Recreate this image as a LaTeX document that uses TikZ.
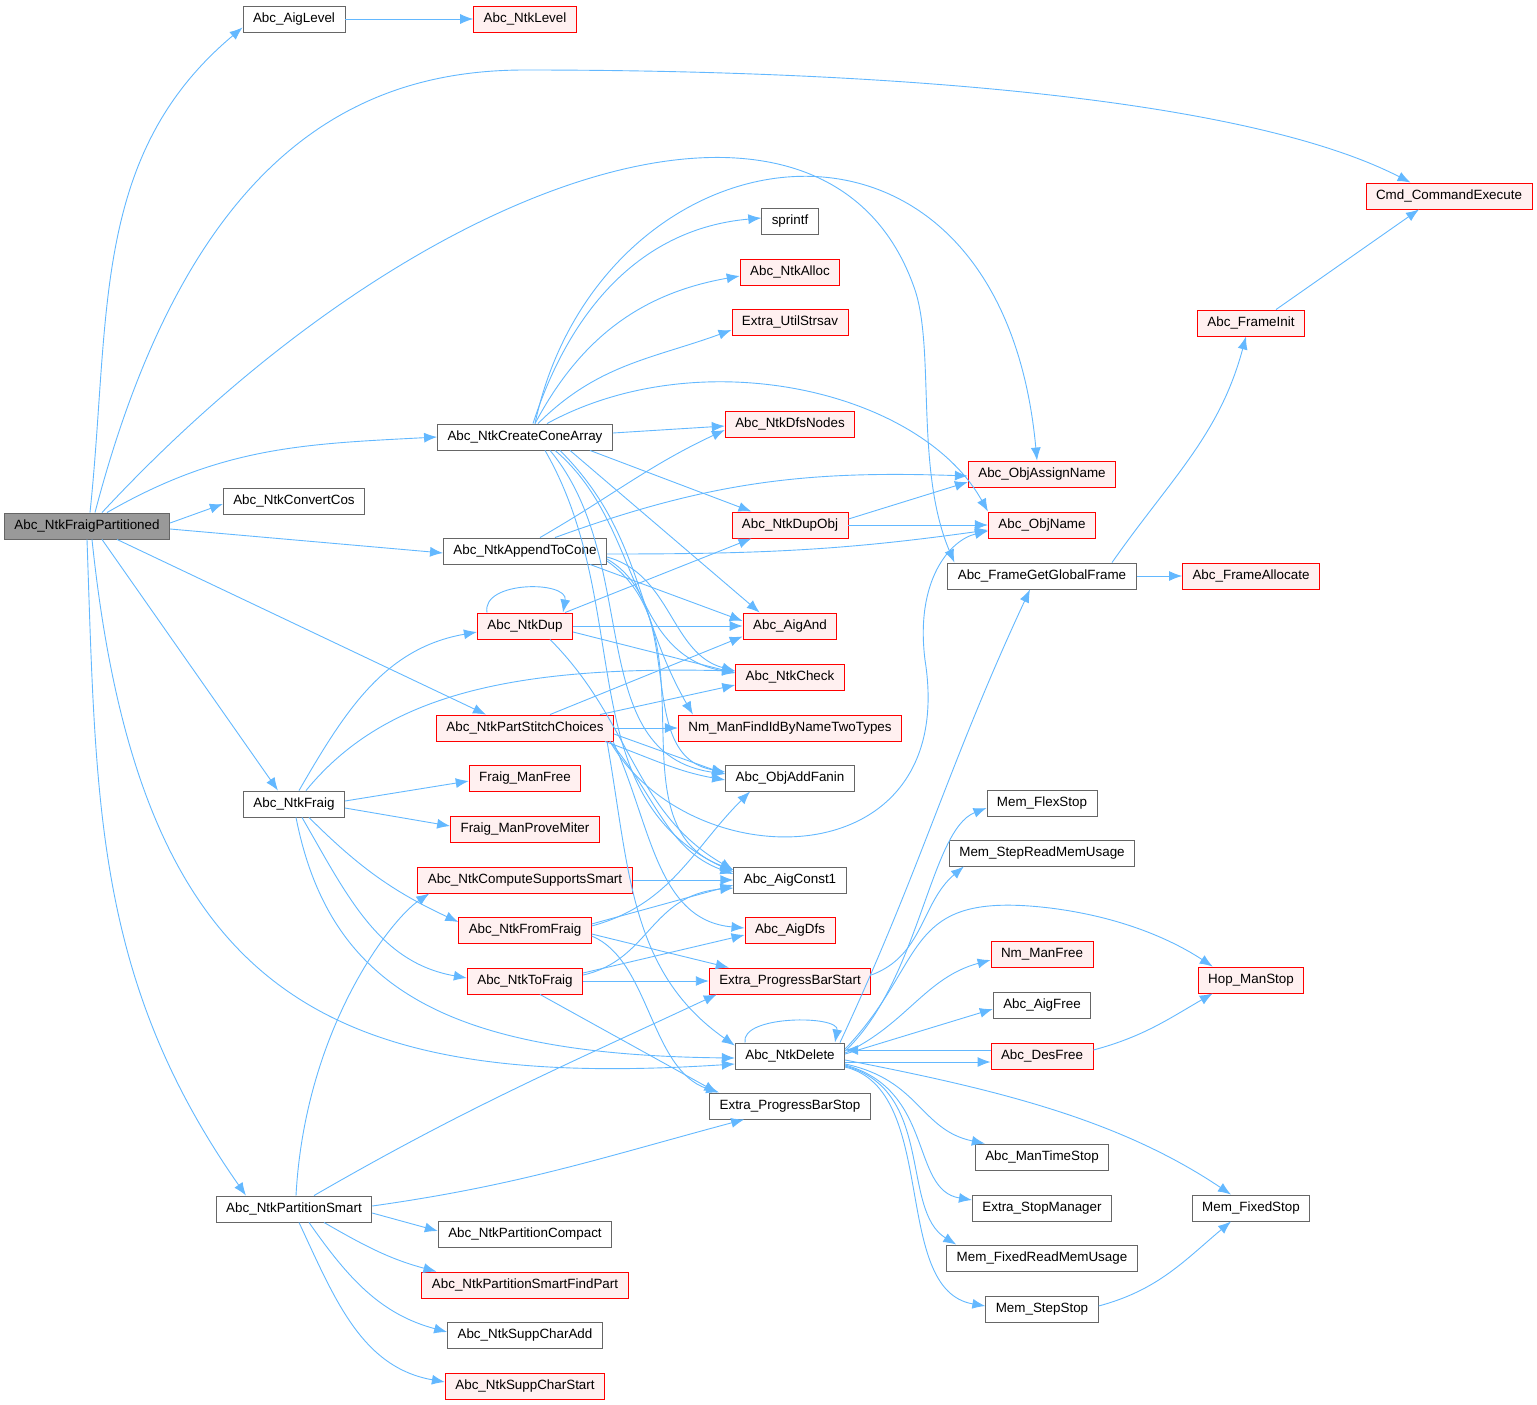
\documentclass[tikz,border=0pt]{standalone}
\usepackage{fontspec}
\setmainfont{Liberation Sans}
\usetikzlibrary{arrows.meta}
\definecolor{edgeblue}{HTML}{63B8FF}
\definecolor{redline}{HTML}{FF0000}
\definecolor{redfill}{HTML}{FFF0F0}
\definecolor{grayline}{HTML}{666666}
\definecolor{rootfill}{HTML}{999999}
\tikzset{
  fnbox/.style={draw=grayline,fill=white,line width=0.9pt,minimum height=26pt,inner xsep=10pt,inner ysep=0pt,font=\fontsize{13.4pt}{15pt}\selectfont},
  fnred/.style={fnbox,draw=redline,fill=redfill},
  fnroot/.style={fnbox,fill=rootfill},
  callarc/.style={-{Latex[length=13pt,width=10pt]},edgeblue,line width=0.9pt}
}
\begin{document}
\begin{tikzpicture}[x=1pt,y=1pt]
  \useasboundingbox (0,0) rectangle (1537,-1405);
  % column 0 and 1
  \node[fnroot] (fraigpart) at (87,-526) {Abc\_NtkFraigPartitioned};
  \node[fnbox] (aiglevel) at (294,-19) {Abc\_AigLevel};
  \node[fnbox] (convcos) at (294,-501) {Abc\_NtkConvertCos};
  \node[fnbox] (ntkfraig) at (294,-804) {Abc\_NtkFraig};
  \node[fnbox] (partsmart) at (294,-1209) {Abc\_NtkPartitionSmart};
  % column 2
  \node[fnred] (ntklevel) at (525,-19) {Abc\_NtkLevel};
  \node[fnbox] (conearray) at (525,-437) {Abc\_NtkCreateConeArray};
  \node[fnbox] (appendcone) at (525,-551) {Abc\_NtkAppendToCone};
  \node[fnred] (ntkdup) at (525,-626) {Abc\_NtkDup};
  \node[fnred] (stitch) at (525,-728) {Abc\_NtkPartStitchChoices};
  \node[fnred] (manfree) at (525,-778) {Fraig\_ManFree};
  \node[fnred] (provemiter) at (525,-829) {Fraig\_ManProveMiter};
  \node[fnred] (suppsmart) at (525,-880) {Abc\_NtkComputeSupportsSmart};
  \node[fnred] (fromfraig) at (525,-930) {Abc\_NtkFromFraig};
  \node[fnred] (tofraig) at (525,-981) {Abc\_NtkToFraig};
  \node[fnbox] (partcompact) at (525,-1234) {Abc\_NtkPartitionCompact};
  \node[fnred] (findpart) at (525,-1285) {Abc\_NtkPartitionSmartFindPart};
  \node[fnbox] (suppadd) at (525,-1335) {Abc\_NtkSuppCharAdd};
  \node[fnred] (suppstart) at (525,-1386) {Abc\_NtkSuppCharStart};
  % column 3
  \node[fnbox] (sprintfn) at (790,-221) {sprintf};
  \node[fnred] (ntkalloc) at (790,-272) {Abc\_NtkAlloc};
  \node[fnred] (strsav) at (790,-322) {Extra\_UtilStrsav};
  \node[fnred] (dfsnodes) at (790,-424) {Abc\_NtkDfsNodes};
  \node[fnred] (dupobj) at (790,-525) {Abc\_NtkDupObj};
  \node[fnred] (aigand) at (790,-626) {Abc\_AigAnd};
  \node[fnred] (ntkcheck) at (790,-677) {Abc\_NtkCheck};
  \node[fnred] (findid) at (790,-728) {Nm\_ManFindIdByNameTwoTypes};
  \node[fnbox] (addfanin) at (790,-778) {Abc\_ObjAddFanin};
  \node[fnbox] (aigconst) at (790,-880) {Abc\_AigConst1};
  \node[fnred] (aigdfs) at (790,-930) {Abc\_AigDfs};
  \node[fnred] (barstart) at (790,-981) {Extra\_ProgressBarStart};
  \node[fnbox] (ntkdelete) at (790,-1056) {Abc\_NtkDelete};
  \node[fnbox] (barstop) at (790,-1106) {Extra\_ProgressBarStop};
  % column 4
  \node[fnred] (assignname) at (1042,-474) {Abc\_ObjAssignName};
  \node[fnred] (objname) at (1042,-525) {Abc\_ObjName};
  \node[fnbox] (globalframe) at (1042,-576) {Abc\_FrameGetGlobalFrame};
  \node[fnbox] (flexstop) at (1042,-803) {Mem\_FlexStop};
  \node[fnbox] (stepreadmem) at (1042,-853) {Mem\_StepReadMemUsage};
  \node[fnred] (nmfree) at (1042,-954) {Nm\_ManFree};
  \node[fnbox] (aigfree) at (1042,-1005) {Abc\_AigFree};
  \node[fnred] (desfree) at (1042,-1056) {Abc\_DesFree};
  \node[fnbox] (timestop) at (1042,-1157) {Abc\_ManTimeStop};
  \node[fnbox] (stopmanager) at (1042,-1208) {Extra\_StopManager};
  \node[fnbox] (fixedreadmem) at (1042,-1258) {Mem\_FixedReadMemUsage};
  \node[fnbox] (stepstop) at (1042,-1309) {Mem\_StepStop};
  % column 5 and 6
  \node[fnred] (frameinit) at (1251,-323) {Abc\_FrameInit};
  \node[fnred] (frameallocate) at (1251,-576) {Abc\_FrameAllocate};
  \node[fnred] (hopstop) at (1251,-980) {Hop\_ManStop};
  \node[fnbox] (fixedstop) at (1251,-1208) {Mem\_FixedStop};
  \node[fnred] (cmdexec) at (1449,-196) {Cmd\_CommandExecute};

  % calls of the root
  \draw[callarc] ([xshift=3pt]fraigpart.north) to[out=84,in=-140] ([yshift=5pt]aiglevel.south west);
  \draw[callarc] ([xshift=8pt]fraigpart.north) .. controls (190,-150) and (360,-70) .. (525,-70) .. controls (900,-70) and (1250,-100) .. ([xshift=45pt]cmdexec.north west);
  \draw[callarc] ([xshift=15pt]fraigpart.north) .. controls (430,-160) and (830,-40) .. (915,-290) .. controls (935,-350) and (915,-470) .. ([xshift=7pt]globalframe.north west);
  \draw[callarc] ([xshift=20pt]fraigpart.north) to[out=30,in=183] (conearray.west);
  \draw[callarc] ([yshift=3pt]fraigpart.east) -- ([yshift=-3pt]convcos.west);
  \draw[callarc] ([yshift=-3pt]fraigpart.east) -- ([yshift=-2pt]appendcone.west);
  \draw[callarc] ([xshift=30pt]fraigpart.south) -- ([xshift=50pt]stitch.north west);
  \draw[callarc] ([xshift=15pt]fraigpart.south) -- ([xshift=-16pt]ntkfraig.north);
  \draw[callarc] ([xshift=5pt]fraigpart.south) .. controls (140,-1000) and (330,-1090) .. ([yshift=-8pt]ntkdelete.west);
  \draw[callarc] (fraigpart.south) to[out=-88,in=125] ([xshift=-48pt]partsmart.north);
  \draw[callarc] (aiglevel) -- (ntklevel);

  % frame
  \draw[callarc] ([xshift=25pt]frameinit.north) -- ([xshift=-30pt]cmdexec.south);
  \draw[callarc] ([xshift=70pt]globalframe.north) to[out=55,in=-105] ([xshift=-5pt]frameinit.south);
  \draw[callarc] (globalframe) -- (frameallocate);

  % Abc_NtkCreateConeArray
  \draw[callarc] ([xshift=8pt]conearray.north) to[out=72,in=185] ([yshift=3pt]sprintfn.west);
  \draw[callarc] ([xshift=10pt]conearray.north) to[out=62,in=190] ([yshift=-4pt]ntkalloc.west);
  \draw[callarc] ([xshift=13pt]conearray.north) to[out=45,in=200] ([yshift=-8pt]strsav.west);
  \draw[callarc] ([yshift=4pt]conearray.east) -- ([yshift=-2pt]dfsnodes.west);
  \draw[callarc] ([xshift=10pt]conearray.north) .. controls (600,-120) and (1000,-60) .. ([xshift=-5pt]assignname.north);
  \draw[callarc] ([xshift=22pt]conearray.north) .. controls (700,-340) and (920,-390) .. (objname.north west);
  \draw[callarc] ([xshift=65pt]conearray.south) -- ([xshift=20pt]dupobj.north west);
  \draw[callarc] ([xshift=45pt]conearray.south) -- ([xshift=17pt]aigand.north west);
  \draw[callarc] ([xshift=30pt]conearray.south) to[out=-40,in=170] ([yshift=4pt]ntkcheck.west);
  \draw[callarc] ([xshift=25pt]conearray.south) to[out=-50,in=172] ([yshift=4pt]addfanin.west);
  \draw[callarc] ([xshift=20pt]conearray.south) to[out=-60,in=155] ([yshift=8pt]aigconst.west);
  \draw[callarc] ([xshift=35pt]conearray.south) to[out=-45,in=120] ([xshift=15pt]findid.north west);

  % Abc_NtkAppendToCone
  \draw[callarc] ([xshift=15pt]appendcone.north) to[out=30,in=205] ([yshift=-6pt]dfsnodes.west);
  \draw[callarc] ([xshift=30pt]appendcone.north) to[out=20,in=178] ([yshift=-2pt]assignname.west);
  \draw[callarc] ([yshift=-3pt]appendcone.east) to[out=0,in=188] ([yshift=-5pt]objname.west);
  \draw[callarc] ([xshift=65pt]appendcone.south) -- ([yshift=5pt]aigand.west);
  \draw[callarc] ([yshift=-6pt]appendcone.east) to[out=-15,in=165] ([yshift=6pt]ntkcheck.west);
  \draw[callarc] ([yshift=-8pt]appendcone.east) to[out=-30,in=170] ([yshift=6pt]addfanin.west);
  \draw[callarc] ([yshift=-10pt]appendcone.east) to[out=-35,in=160] ([yshift=10pt]aigconst.west);

  % Abc_NtkDup
  \draw[callarc] ([xshift=-38pt]ntkdup.north) to[out=100,in=80,looseness=1.1] ([xshift=38pt]ntkdup.north);
  \draw[callarc] ([xshift=40pt]ntkdup.north) -- ([xshift=20pt]dupobj.south west);
  \draw[callarc] (ntkdup) -- (aigand);
  \draw[callarc] ([yshift=-6pt]ntkdup.east) -- ([yshift=4pt]ntkcheck.west);
  \draw[callarc] ([xshift=25pt]ntkdup.south) to[out=-45,in=150] ([yshift=10pt]aigconst.west);

  % Abc_NtkPartStitchChoices
  \draw[callarc] ([xshift=25pt]stitch.north) -- ([yshift=3pt]aigand.south west);
  \draw[callarc] ([xshift=75pt]stitch.north) -- ([yshift=-8pt]ntkcheck.west);
  \draw[callarc] (stitch) -- (findid);
  \draw[callarc] ([yshift=-6pt]stitch.east) -- ([yshift=4pt]addfanin.west);
  \draw[callarc] ([xshift=80pt]stitch.south) to[out=-20,in=170] ([yshift=-2pt]addfanin.west);
  \draw[callarc] ([xshift=85pt]stitch.south) to[out=-50,in=160] ([yshift=6pt]aigconst.west);
  \draw[callarc] ([xshift=88pt]stitch.south) to[out=-65,in=175] ([yshift=2pt]aigdfs.west);
  \draw[callarc] ([xshift=82pt]stitch.south) to[out=-80,in=145] ([yshift=-3pt]ntkdelete.north west);
  \draw[callarc] ([xshift=85pt]stitch.south) .. controls (690,-880) and (960,-880) .. (925,-660) .. controls (915,-580) and (950,-540) .. ([yshift=-6pt]objname.west);

  % Abc_NtkFraig
  \draw[callarc] ([xshift=5pt]ntkfraig.north) to[out=60,in=190] ([yshift=-6pt]ntkdup.west);
  \draw[callarc] ([xshift=12pt]ntkfraig.north) .. controls (380,-700) and (500,-665) .. ([yshift=6pt]ntkcheck.west);
  \draw[callarc] ([yshift=3pt]ntkfraig.east) -- ([yshift=-3pt]manfree.west);
  \draw[callarc] ([yshift=-4pt]ntkfraig.east) -- ([yshift=3pt]provemiter.west);
  \draw[callarc] ([xshift=15pt]ntkfraig.south) to[out=-45,in=155] ([yshift=8pt]fromfraig.west);
  \draw[callarc] ([xshift=8pt]ntkfraig.south) to[out=-60,in=170] ([yshift=3pt]tofraig.west);
  \draw[callarc] ([xshift=2pt]ntkfraig.south) .. controls (330,-990) and (450,-1055) .. ([yshift=-2pt]ntkdelete.west);

  % supports, from/to fraig
  \draw[callarc] (suppsmart) -- (aigconst);
  \draw[callarc] ([yshift=4pt]fromfraig.east) to[out=15,in=-135] ([xshift=25pt]addfanin.south west);
  \draw[callarc] ([yshift=6pt]fromfraig.east) -- ([yshift=-5pt]aigconst.west);
  \draw[callarc] ([yshift=-4pt]fromfraig.east) -- ([xshift=20pt]barstart.north west);
  \draw[callarc] ([yshift=-6pt]fromfraig.east) .. controls (650,-960) and (650,-1070) .. ([xshift=10pt]barstop.north west);
  \draw[callarc] ([yshift=6pt]tofraig.east) .. controls (650,-960) and (650,-895) .. ([yshift=-8pt]aigconst.west);
  \draw[callarc] ([yshift=8pt]tofraig.east) -- ([yshift=-5pt]aigdfs.west);
  \draw[callarc] (tofraig) -- (barstart);
  \draw[callarc] ([xshift=15pt]tofraig.south) -- ([xshift=8pt]barstop.north west);

  % Abc_NtkPartitionSmart
  \draw[callarc] ([xshift=2pt]partsmart.north) .. controls (305,-1030) and (390,-920) .. ([xshift=12pt]suppsmart.south west);
  \draw[callarc] ([xshift=20pt]partsmart.north) to[out=30,in=205] ([xshift=8pt]barstart.south west);
  \draw[callarc] ([yshift=3pt]partsmart.east) to[out=8,in=195] ([xshift=35pt]barstop.south west);
  \draw[callarc] ([yshift=-4pt]partsmart.east) -- ([yshift=3pt]partcompact.west);
  \draw[callarc] ([xshift=30pt]partsmart.south) to[out=-30,in=165] ([xshift=15pt]findpart.north west);
  \draw[callarc] ([xshift=15pt]partsmart.south) to[out=-55,in=165] ([yshift=3pt]suppadd.west);
  \draw[callarc] ([xshift=5pt]partsmart.south) to[out=-65,in=170] ([yshift=4pt]suppstart.west);
  \draw[callarc] ([yshift=6pt]barstart.east) to[out=20,in=-140] ([xshift=15pt]stepreadmem.south west);

  % Abc_NtkDelete
  \draw[callarc] ([xshift=-45pt]ntkdelete.north) to[out=100,in=80,looseness=0.8] ([xshift=45pt]ntkdelete.north);
  \draw[callarc] ([xshift=50pt]ntkdelete.north) to[out=65,in=-115] ([xshift=-12pt]globalframe.south);
  \draw[callarc] ([yshift=5pt]ntkdelete.east) .. controls (920,-980) and (930,-830) .. ([yshift=-5pt]flexstop.west);
  \draw[callarc] ([yshift=7pt]ntkdelete.east) .. controls (930,-960) and (900,-890) .. (1050,-908) .. controls (1130,-918) and (1180,-945) .. ([xshift=15pt]hopstop.north west);
  \draw[callarc] ([yshift=3pt]ntkdelete.east) to[out=25,in=195] ([yshift=-6pt]nmfree.west);
  \draw[callarc] ([yshift=2pt]ntkdelete.east) -- ([yshift=-4pt]aigfree.west);
  \draw[callarc] ([yshift=6pt]desfree.west) -- ([yshift=6pt]ntkdelete.east);
  \draw[callarc] ([yshift=-6pt]ntkdelete.east) -- ([yshift=-6pt]desfree.west);
  \draw[callarc] ([yshift=6pt]desfree.east) to[out=15,in=-150] ([xshift=15pt]hopstop.south west);
  \draw[callarc] ([yshift=-8pt]ntkdelete.east) .. controls (920,-1080) and (920,-1130) .. ([xshift=10pt]timestop.north west);
  \draw[callarc] ([yshift=-9pt]ntkdelete.east) .. controls (935,-1090) and (910,-1190) .. ([yshift=8pt]stopmanager.west);
  \draw[callarc] ([yshift=-10pt]ntkdelete.east) .. controls (935,-1090) and (900,-1210) .. ([xshift=10pt]fixedreadmem.north west);
  \draw[callarc] ([yshift=-11pt]ntkdelete.east) .. controls (940,-1090) and (890,-1290) .. ([yshift=3pt]stepstop.west);
  \draw[callarc] ([yshift=-4pt]ntkdelete.east) .. controls (1000,-1090) and (1120,-1120) .. ([xshift=-20pt]fixedstop.north);
  \draw[callarc] ([yshift=3pt]stepstop.east) to[out=15,in=-140] ([xshift=-20pt]fixedstop.south);

  % Abc_NtkDupObj
  \draw[callarc] ([yshift=6pt]dupobj.east) -- ([yshift=-8pt]assignname.west);
  \draw[callarc] (dupobj) -- (objname);
\end{tikzpicture}
\end{document}
